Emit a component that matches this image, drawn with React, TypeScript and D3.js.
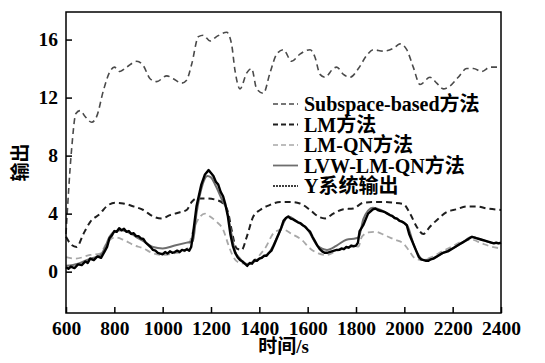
import * as d3 from "d3";
import { useEffect, useRef } from "react";

// x positions (s) and values
const subX = [600, 623, 641, 658, 679, 706, 727, 755, 782, 800, 823, 851, 893, 920, 948, 975, 1017, 1044, 1079, 1099, 1120, 1148, 1168, 1196, 1223, 1265, 1285, 1299, 1320, 1348, 1368, 1389, 1417, 1444, 1472, 1499, 1534, 1568, 1610, 1630, 1651, 1672, 1706, 1720, 1748, 1775, 1810, 1844, 1872, 1913, 1955, 1982, 2010, 2037, 2065, 2106, 2134, 2161, 2189, 2223, 2258, 2286, 2320, 2355, 2400];
const subY = [2.6, 8.4, 10.9, 11.1, 10.7, 10.3, 10.7, 12.5, 13.8, 14.1, 13.8, 14.1, 14.5, 14.2, 13.3, 13.1, 13.5, 13.3, 13.0, 13.2, 14.3, 16.2, 16.3, 15.9, 16.2, 16.5, 15.7, 13.9, 12.6, 13.7, 14.0, 12.6, 12.3, 13.7, 15.0, 15.3, 14.5, 15.0, 15.3, 14.8, 13.6, 13.4, 14.0, 14.1, 13.6, 13.4, 14.0, 14.9, 15.3, 15.2, 15.4, 15.7, 15.3, 14.1, 12.9, 13.4, 13.0, 12.6, 12.8, 13.4, 14.0, 14.0, 13.8, 14.1, 14.1];

const lmX = [600, 623, 644, 672, 699, 741, 768, 803, 837, 879, 920, 961, 996, 1030, 1072, 1099, 1120, 1141, 1182, 1223, 1251, 1272, 1285, 1306, 1327, 1348, 1375, 1403, 1444, 1486, 1527, 1568, 1610, 1644, 1672, 1706, 1748, 1789, 1830, 1872, 1913, 1955, 1996, 2024, 2051, 2079, 2106, 2134, 2175, 2216, 2258, 2299, 2341, 2400];
const lmY = [2.4, 1.84, 1.7, 2.6, 3.4, 4.0, 4.5, 4.75, 4.7, 4.5, 4.25, 3.8, 3.67, 3.9, 4.1, 4.25, 4.8, 5.05, 5.05, 4.94, 4.7, 4.0, 2.9, 1.6, 1.5, 2.4, 3.8, 4.25, 4.6, 4.8, 4.8, 4.7, 4.25, 3.8, 3.67, 4.0, 4.3, 4.36, 4.75, 4.8, 4.8, 4.75, 4.66, 4.0, 3.1, 2.6, 3.1, 3.55, 4.1, 4.3, 4.5, 4.5, 4.36, 4.25];

const qnX = [600, 640, 700, 741, 768, 803, 837, 879, 920, 961, 1003, 1044, 1086, 1106, 1127, 1155, 1175, 1196, 1223, 1251, 1272, 1292, 1320, 1350, 1380, 1423, 1465, 1499, 1534, 1575, 1610, 1644, 1679, 1713, 1755, 1789, 1810, 1824, 1851, 1879, 1920, 1961, 1996, 2017, 2044, 2072, 2113, 2154, 2196, 2237, 2279, 2320, 2361, 2400];
const qnY = [1.0, 0.9, 1.15, 1.25, 1.95, 2.36, 2.2, 1.84, 1.6, 1.26, 1.15, 1.26, 1.38, 1.72, 2.87, 3.8, 4.0, 3.8, 3.44, 2.87, 1.84, 1.03, 0.6, 0.55, 0.8, 1.6, 2.75, 2.9, 2.6, 2.2, 1.6, 1.26, 1.15, 1.38, 1.6, 1.72, 1.72, 2.4, 2.7, 2.75, 2.5, 2.2, 1.95, 1.5, 0.92, 0.8, 1.0, 1.38, 1.72, 2.07, 2.2, 1.95, 1.72, 1.6];

const lvwX = [600, 650, 700, 740, 760, 780, 800, 830, 870, 900, 930, 960, 1000, 1050, 1100, 1125, 1140, 1165, 1185, 1200, 1220, 1250, 1265, 1280, 1300, 1320, 1350, 1400, 1440, 1480, 1520, 1560, 1600, 1640, 1680, 1720, 1760, 1800, 1812, 1830, 1850, 1870, 1885, 1920, 1960, 2000, 2012, 2040, 2080, 2120, 2160, 2200, 2240, 2280, 2320, 2360, 2400];
const lvwY = [0.4, 0.55, 0.9, 1.1, 1.6, 2.4, 2.75, 2.85, 2.6, 2.3, 2.0, 1.7, 1.6, 1.8, 2.0, 2.1, 4.0, 6.0, 6.6, 6.5, 5.9, 4.8, 4.3, 3.0, 1.4, 0.9, 0.5, 0.9, 1.3, 2.6, 3.8, 3.4, 2.9, 1.8, 1.5, 1.8, 2.2, 2.3, 2.4, 3.6, 4.2, 4.4, 4.35, 4.1, 3.7, 3.35, 3.2, 1.8, 0.8, 0.9, 1.3, 1.6, 2.0, 2.4, 2.2, 2.0, 1.95];

const outX = [600, 610, 620, 635, 650, 665, 680, 690, 700, 715, 730, 745, 760, 770, 780, 790, 800, 810, 820, 830, 840, 850, 860, 870, 880, 890, 900, 910, 920, 930, 940, 950, 960, 970, 980, 990, 1000, 1010, 1020, 1030, 1040, 1050, 1060, 1070, 1080, 1090, 1100, 1110, 1118, 1125, 1140, 1160, 1175, 1190, 1200, 1210, 1220, 1230, 1240, 1250, 1260, 1270, 1280, 1290, 1300, 1310, 1320, 1330, 1340, 1350, 1360, 1370, 1380, 1390, 1400, 1410, 1420, 1430, 1440, 1450, 1460, 1470, 1480, 1490, 1500, 1510, 1520, 1530, 1540, 1550, 1560, 1570, 1580, 1590, 1600, 1610, 1620, 1630, 1640, 1650, 1660, 1670, 1680, 1690, 1700, 1710, 1720, 1730, 1740, 1750, 1760, 1770, 1780, 1790, 1800, 1808, 1815, 1830, 1850, 1870, 1880, 1890, 1900, 1910, 1920, 1930, 1940, 1950, 1960, 1970, 1980, 1990, 2000, 2010, 2020, 2030, 2040, 2050, 2060, 2070, 2080, 2090, 2100, 2110, 2120, 2130, 2140, 2150, 2160, 2170, 2180, 2190, 2200, 2210, 2220, 2230, 2240, 2250, 2260, 2270, 2280, 2290, 2300, 2310, 2320, 2330, 2340, 2350, 2360, 2370, 2380, 2390, 2400];
const outY = [0.3, 0.2, 0.35, 0.25, 0.5, 0.45, 0.7, 0.6, 0.9, 0.8, 1.05, 0.95, 1.4, 1.7, 2.3, 2.5, 2.8, 2.75, 3.0, 2.85, 2.95, 2.75, 2.8, 2.6, 2.65, 2.45, 2.45, 2.3, 2.25, 2.0, 1.85, 1.7, 1.5, 1.45, 1.3, 1.25, 1.2, 1.35, 1.25, 1.4, 1.3, 1.35, 1.45, 1.35, 1.5, 1.45, 1.55, 1.45, 1.7, 2.5, 4.5, 6.0, 6.7, 7.0, 6.8, 6.6, 6.2, 6.0, 5.5, 5.2, 4.6, 3.8, 2.6, 1.8, 1.3, 1.0, 0.8, 0.7, 0.55, 0.4, 0.6, 0.55, 0.8, 0.75, 0.9, 0.95, 1.1, 1.1, 1.3, 1.45, 1.8, 2.2, 2.6, 3.0, 3.5, 3.7, 3.8, 3.65, 3.6, 3.5, 3.4, 3.35, 3.2, 3.1, 2.9, 2.75, 2.4, 2.1, 1.8, 1.55, 1.4, 1.3, 1.3, 1.35, 1.4, 1.45, 1.5, 1.5, 1.6, 1.55, 1.7, 1.65, 1.8, 1.75, 1.8, 2.0, 2.8, 3.2, 4.0, 4.3, 4.35, 4.25, 4.2, 4.15, 4.1, 4.0, 3.9, 3.85, 3.7, 3.65, 3.5, 3.45, 3.35, 3.2, 2.6, 2.2, 1.8, 1.4, 1.0, 0.85, 0.8, 0.75, 0.75, 0.85, 0.9, 1.0, 1.1, 1.2, 1.3, 1.35, 1.4, 1.5, 1.6, 1.7, 1.8, 1.9, 2.0, 2.1, 2.2, 2.3, 2.4, 2.35, 2.3, 2.25, 2.2, 2.15, 2.1, 2.05, 2.0, 1.95, 2.0, 1.95, 2.0];

const xTicks = [600, 800, 1000, 1200, 1400, 1600, 1800, 2000, 2200, 2400];
const yTicks = [0, 4, 8, 12, 16];
const seriesNames = ["Subspace-based方法", "LM方法", "LM-QN方法", "LVW-LM-QN方法", "Y系统输出"];

const FONT = '"Liberation Serif", "Times New Roman", "DejaVu Serif", "Noto Sans CJK SC", serif';

const App = () => {
  const ref = useRef<SVGSVGElement>(null);

  useEffect(() => {
    const W = 545, H = 363;
    const margin = { top: 12, right: 44, bottom: 50, left: 66 };
    const svg = d3.select(ref.current);
    svg.selectAll("*").remove();

    const x = d3.scaleLinear().domain([600, 2400]).range([margin.left, W - margin.right]);
    const y = d3.scaleLinear().domain([-2.85, 17.9]).range([H - margin.bottom, margin.top]);

    const series = [
      { xs: subX, ys: subY, color: "#4a4a4a", width: 1.6, dash: "6,4", curve: d3.curveMonotoneX },
      { xs: lmX, ys: lmY, color: "#1e1e1e", width: 2, dash: "6,4", curve: d3.curveMonotoneX },
      { xs: qnX, ys: qnY, color: "#a8a8a8", width: 1.8, dash: "6,4", curve: d3.curveMonotoneX },
      { xs: lvwX, ys: lvwY, color: "#6e6e6e", width: 2, dash: null, curve: d3.curveMonotoneX },
      { xs: outX, ys: outY, color: "#000", width: 2.4, dash: null, curve: d3.curveLinear },
    ];

    const plot = svg.append("g");
    series.forEach((s) => {
      const pts = s.xs.map((v, i) => [v, s.ys[i]] as [number, number]);
      const line = d3.line<[number, number]>().x((d) => x(d[0])).y((d) => y(d[1])).curve(s.curve);
      plot
        .append("path")
        .attr("d", line(pts))
        .attr("fill", "none")
        .attr("stroke", s.color)
        .attr("stroke-width", s.width)
        .attr("stroke-dasharray", s.dash)
        .attr("stroke-linejoin", "round");
    });

    // frame
    svg
      .append("rect")
      .attr("x", x(600))
      .attr("y", margin.top)
      .attr("width", x(2400) - x(600))
      .attr("height", H - margin.bottom - margin.top)
      .attr("fill", "none")
      .attr("stroke", "#000")
      .attr("stroke-width", 1.5);

    // inward ticks
    const xAxis = svg.append("g").attr("transform", `translate(0,${H - margin.bottom})`)
      .call(d3.axisBottom(x).tickValues(xTicks).tickFormat(d3.format("d")).tickSizeInner(-6).tickSizeOuter(0).tickPadding(8));
    const yAxis = svg.append("g").attr("transform", `translate(${margin.left},0)`)
      .call(d3.axisLeft(y).tickValues(yTicks).tickFormat(d3.format("d")).tickSizeInner(-6).tickSizeOuter(0).tickPadding(8));
    [xAxis, yAxis].forEach((a) => {
      a.select(".domain").remove();
      a.selectAll("line").attr("stroke", "#000").attr("stroke-width", 1.5);
      a.selectAll("text")
        .style("font-family", FONT)
        .style("font-weight", "bold")
        .style("font-size", "19.5px")
        .attr("fill", "#000");
    });

    // axis titles
    svg.append("text")
      .attr("x", (x(600) + x(2400)) / 2)
      .attr("y", 353)
      .attr("text-anchor", "middle")
      .style("font-family", FONT)
      .style("font-weight", "bold")
      .style("font-size", "19px")
      .text("时间/s");
    svg.append("text")
      .attr("transform", `translate(27,${(y(-2.85) + y(17.9)) / 2}) rotate(-90)`)
      .attr("text-anchor", "middle")
      .style("font-family", FONT)
      .style("font-weight", "bold")
      .style("font-size", "19px")
      .text("输出");

    // legend
    const legend = svg.append("g").attr("transform", "translate(273,104)");
    series.forEach((s, i) => {
      const row = legend.append("g").attr("transform", `translate(0,${i * 20.5})`);
      row.append("line")
        .attr("x1", 0).attr("x2", 25).attr("y1", 0).attr("y2", 0)
        .attr("stroke", s.color)
        .attr("stroke-width", i === 4 ? 1.3 : s.width - 0.2)
        .attr("stroke-dasharray", i === 4 ? "2,1" : s.dash ? "5,3" : null);
      row.append("text")
        .attr("x", 31)
        .attr("y", 7)
        .style("font-family", FONT)
        .style("font-weight", "bold")
        .style("font-size", "20px")
        .attr("fill", "#000")
        .text(seriesNames[i]);
    });
  }, []);

  return (
    <svg
      ref={ref}
      width={545}
      height={363}
      style={{ position: "fixed", left: 0, top: 0, background: "#fff" }}
    />
  );
};

export default App;
